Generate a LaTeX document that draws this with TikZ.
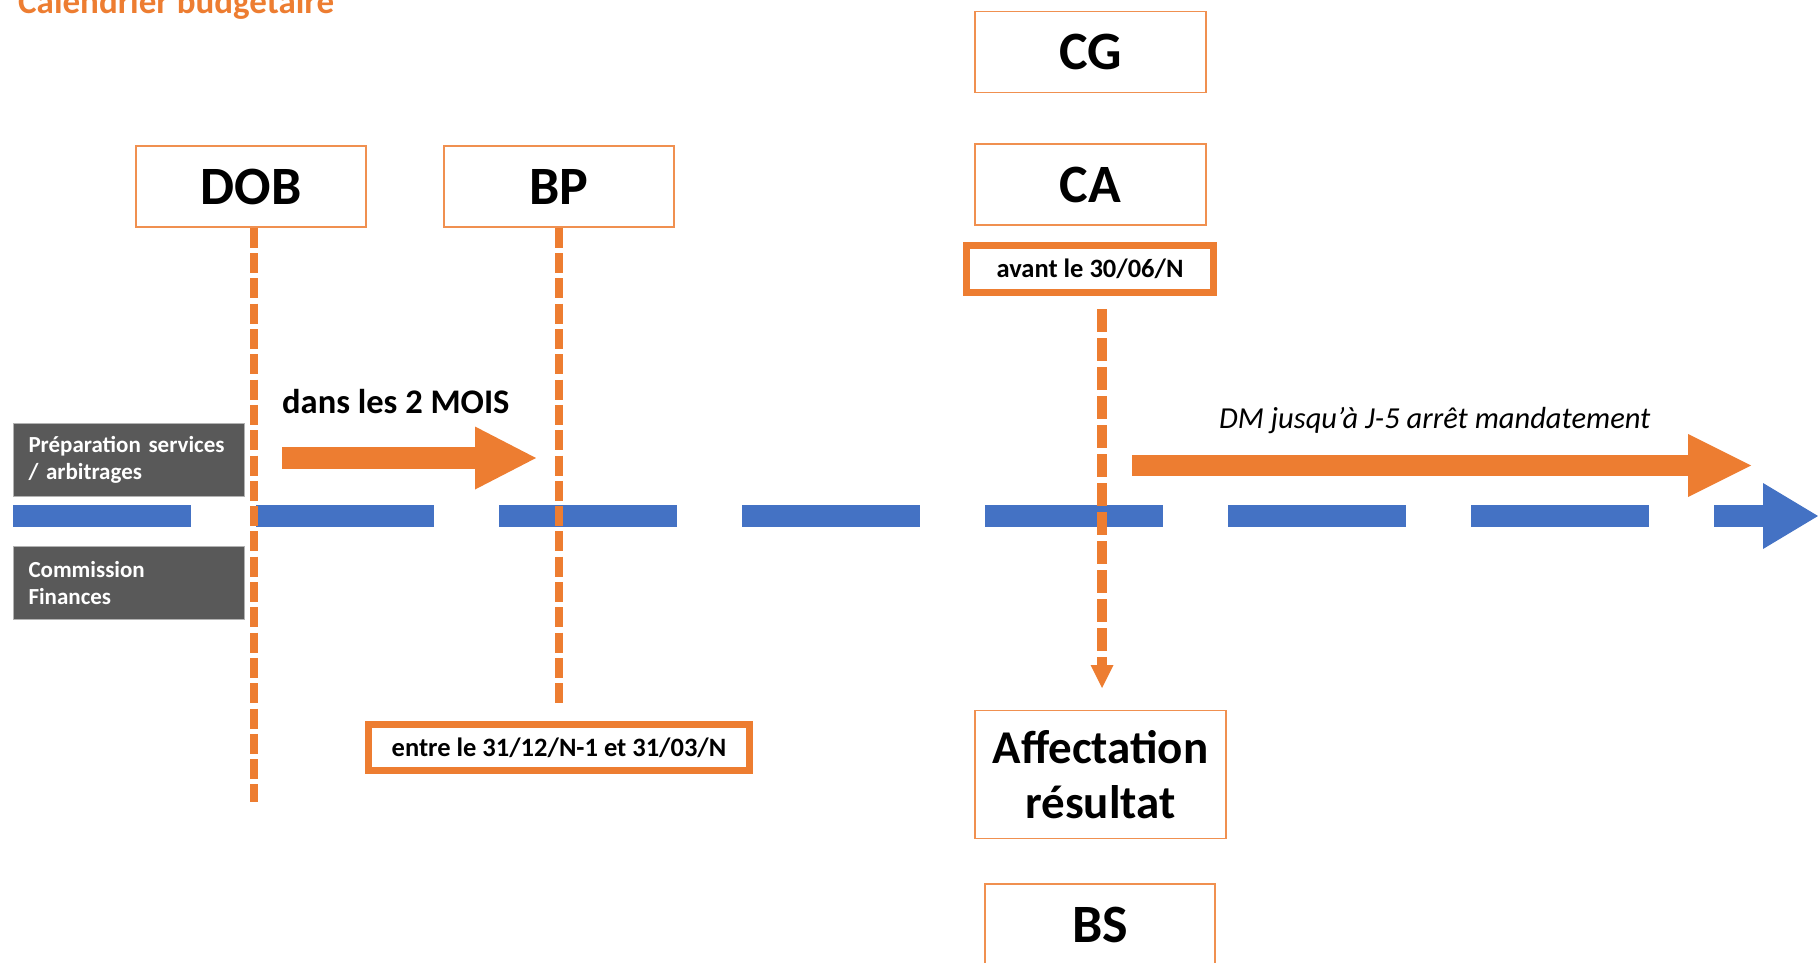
\documentclass[tikz,border=0pt]{standalone}
\usepackage{fontspec}
\setmainfont{Carlito}
\usetikzlibrary{arrows.meta}
\definecolor{ora}{HTML}{ED7D31}
\definecolor{blu}{HTML}{4472C4}
\definecolor{gry}{HTML}{595959}
\tikzset{
  ybox/.style={draw=ora!85!white, line width=1.6pt, fill=white, inner sep=0pt, align=center,
    minimum width=230pt, minimum height=81pt, font=\fontsize{54}{62}\selectfont\bfseries},
  datebox/.style={draw=ora, line width=7pt, fill=white, inner sep=0pt,
    font=\fontsize{26.5}{30}\selectfont\bfseries},
  greybox/.style={fill=gry, draw=gray!60, line width=1pt, anchor=north west, inner sep=0pt, inner xsep=15pt,
    minimum width=231pt, minimum height=73pt, text width=201pt, align=left, text=white,
    font=\fontsize{23}{27.5}\selectfont\bfseries},
  odash/.style={draw=ora, line width=8.5pt, dash pattern=on 20pt off 5.3pt},
  odashb/.style={draw=ora, line width=10pt, dash pattern=on 23.3pt off 5.7pt},
}
\begin{document}
\begin{tikzpicture}[x=1pt,y=-1pt]
\useasboundingbox (0,0) rectangle (1818,962);

% title (cut at the top)
\node[anchor=base west, inner sep=0pt, text=ora, font=\fontsize{35}{42}\selectfont\bfseries] (title) at (18,13) {Calendrier budgetaire};

% grey labels
\node[greybox] (prep) at (13,423) {Préparation services\\/ arbitrages};
\node[greybox] (comm) at (13,546) {Commission\\Finances};

% blue timeline
\coordinate (tl0) at (13,516);
\coordinate (tl1) at (1763,516);
\coordinate (tltip) at (1818,516);
\draw[blu, line width=22pt, dash pattern=on 178pt off 65pt] (tl0) -- (tl1);
\fill[blu] ([yshift=-33pt]tl1) -- (tltip) -- ([yshift=33pt]tl1) -- cycle;

% boxes
\node[ybox] (DOB) at (251,186.5) {DOB};
\node[ybox] (BP) at (559,186.5) {BP};
\node[ybox, minimum width=231pt] (CG) at (1090.5,52) {CG};
\node[ybox, minimum width=231pt] (CA) at (1090.5,184.5) {CA};
\node[datebox, minimum width=247pt, minimum height=47pt] (avant) at (1090,269) {avant le 30/06/N};
\node[datebox, minimum width=381pt, minimum height=46pt] (entre) at (559,747.5) {entre le 31/12/N-1 et 31/03/N};
\node[ybox, minimum width=251pt, minimum height=128pt, font=\fontsize{47}{55}\selectfont\bfseries] (aff) at (1100.5,774.5) {Affectation\\résultat};
\node[ybox, minimum width=230pt, minimum height=81pt] (BS) at (1100,924.5) {BS};

% vertical dashed lines
\coordinate (dobend) at (254,802);
\coordinate (bpend) at (559,704);
\draw[odash] (DOB.south -| dobend) -- (dobend);
\draw[odash] (BP.south -| bpend) -- (bpend);
\coordinate (cas) at (1102,309);
\coordinate (cae) at (1102,665);
\coordinate (catip) at (1102,688);
\draw[odashb] (cas) -- (cae);
\fill[ora] ([xshift=-11.5pt]cae) -- (catip) -- ([xshift=11.5pt]cae) -- cycle;

% orange block arrow 1
\coordinate (a1s) at (282,458);
\coordinate (a1b) at (475,458);
\coordinate (a1t) at (536,458);
\fill[ora] ([yshift=-11pt]a1s) rectangle ([yshift=11pt,xshift=1pt]a1b);
\fill[ora] ([yshift=-31.5pt]a1b) -- (a1t) -- ([yshift=31.5pt]a1b) -- cycle;
\node[anchor=base west, inner sep=0pt, font=\fontsize{34.5}{40}\selectfont\bfseries] (dans) at (282,413) {dans les 2 MOIS};

% orange block arrow 2
\coordinate (a2s) at (1132,465.5);
\coordinate (a2b) at (1688,465.5);
\coordinate (a2t) at (1751,465.5);
\fill[ora] ([yshift=-10.5pt]a2s) rectangle ([yshift=10.5pt,xshift=1pt]a2b);
\fill[ora] ([yshift=-31.5pt]a2b) -- (a2t) -- ([yshift=31.5pt]a2b) -- cycle;
\node[anchor=base west, inner sep=0pt, font=\fontsize{30.5}{36}\selectfont\itshape] (dm) at (1219,428) {DM jusqu’à J-5 arrêt mandatement};
\end{tikzpicture}
\end{document}
